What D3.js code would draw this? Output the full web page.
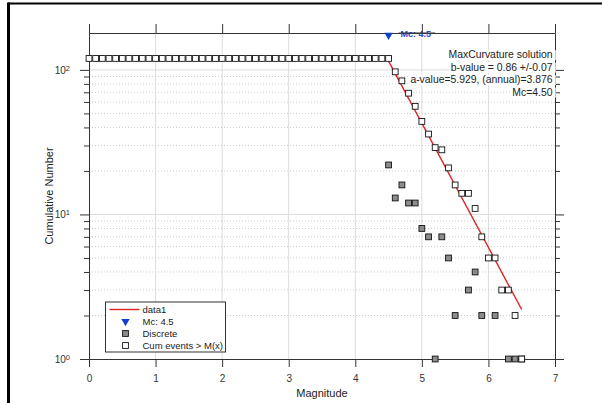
<!DOCTYPE html>
<html>
<head>
<meta charset="utf-8">
<script src="https://cdn.jsdelivr.net/npm/d3@7"></script>
<style>
  body { margin: 0; background: #fff; }
  svg { display: block; font-family: "Liberation Sans", Arial, sans-serif; }
</style>
</head>
<body>
<div id="graf"></div>
<script>
// datos
cumMag = [0.0, 0.1, 0.2, 0.3, 0.4, 0.5, 0.6, 0.7, 0.8, 0.9,
          1.0, 1.1, 1.2, 1.3, 1.4, 1.5, 1.6, 1.7, 1.8, 1.9,
          2.0, 2.1, 2.2, 2.3, 2.4, 2.5, 2.6, 2.7, 2.8, 2.9,
          3.0, 3.1, 3.2, 3.3, 3.4, 3.5, 3.6, 3.7, 3.8, 3.9,
          4.0, 4.1, 4.2, 4.3, 4.4, 4.5, 4.6, 4.7, 4.8, 4.9,
          5.0, 5.1, 5.2, 5.3, 5.4, 5.5, 5.6, 5.7, 5.8, 5.9,
          6.0, 6.1, 6.2, 6.3, 6.4, 6.5]
cumN = [120, 120, 120, 120, 120, 120, 120, 120, 120, 120,
        120, 120, 120, 120, 120, 120, 120, 120, 120, 120,
        120, 120, 120, 120, 120, 120, 120, 120, 120, 120,
        120, 120, 120, 120, 120, 120, 120, 120, 120, 120,
        120, 120, 120, 120, 120, 120, 97, 84, 69, 56,
        44, 36, 29, 28, 21, 16, 14, 14, 11, 7,
        5, 5, 3, 3, 2, 1]

discMag = [4.5, 4.6, 4.7, 4.8, 4.9, 5.0, 5.1, 5.2, 5.3, 5.4, 5.5, 5.7, 5.8, 5.9, 6.1, 6.3, 6.4, 6.5]
discN   = [22, 13, 16, 12, 12, 8, 7, 1, 7, 5, 2, 3, 4, 2, 2, 1, 1, 1]

fitMag = [4.5, 6.5]
fitN   = [115, 2.2]

mcMag = [4.5]
mcN   = [174]

xTicks = [0, 1, 2, 3, 4, 5, 6, 7]
yMajor = [1, 10, 100]
yMinor = [2, 3, 4, 5, 6, 7, 8, 9, 20, 30, 40, 50, 60, 70, 80, 90]

infoLines = ['MaxCurvature solution', 'b-value = 0.86 +/-0.07',
             'a-value=5.929, (annual)=3.876', 'Mc=4.50']
legendLabels = ['data1', 'Mc: 4.5', 'Discrete', 'Cum events > M(x)']

// configuración
ancho_total = 602
alto_total = 403
margins = { top: 33, left: 89, right: 47, bottom: 44 }
ancho = ancho_total - margins.left - margins.right
alto = alto_total - margins.top - margins.bottom

ejeColor = '#333333'

svg = d3.select('#graf').append('svg')
        .attr('width', ancho_total)
        .attr('height', alto_total)

// marco negro
svg.append('line').attr('x1', 8).attr('x2', 602).attr('y1', 3.5).attr('y2', 3.5)
   .attr('stroke', '#000').attr('stroke-width', 2)
svg.append('line').attr('x1', 8.5).attr('x2', 8.5).attr('y1', 2.5).attr('y2', 403)
   .attr('stroke', '#000').attr('stroke-width', 3)

g = svg.append('g').attr('transform', `translate(${margins.left}, ${margins.top})`)

x = d3.scaleLinear().domain([0, 7]).range([0, ancho])
y = d3.scaleLog().domain([1, 180]).range([alto, 0])

// rejilla
g.selectAll('.gx').data(xTicks.slice(1, -1)).enter().append('line')
  .attr('x1', d => x(d)).attr('x2', d => x(d))
  .attr('y1', 0).attr('y2', alto)
  .attr('stroke', '#dcdcdc').attr('stroke-width', 1)
g.selectAll('.gy').data(yMajor.slice(1)).enter().append('line')
  .attr('x1', 0).attr('x2', ancho)
  .attr('y1', d => y(d)).attr('y2', d => y(d))
  .attr('stroke', '#dcdcdc').attr('stroke-width', 1)
g.selectAll('.gym').data(yMinor).enter().append('line')
  .attr('x1', 0).attr('x2', ancho)
  .attr('y1', d => y(d)).attr('y2', d => y(d))
  .attr('stroke', '#cccccc').attr('stroke-width', 1)
  .attr('stroke-dasharray', '1,2')

// ejes
function estiloEje(sel) {
  sel.select('.domain').attr('stroke', ejeColor)
  sel.selectAll('.tick line').attr('stroke', ejeColor)
  sel.selectAll('.tick text').attr('fill', '#333').style('font-size', '10px')
}

xAxisGroup = g.append('g').attr('transform', `translate(0, ${alto})`)
  .call(d3.axisBottom(x).tickValues(xTicks).tickSize(8).tickSizeOuter(0).tickPadding(8).tickFormat(d3.format('d')))
  .call(estiloEje)

topAxisGroup = g.append('g')
  .call(d3.axisTop(x).tickValues(xTicks).tickSize(9).tickSizeOuter(0).tickFormat(''))
  .call(estiloEje)

yAxisGroup = g.append('g')
  .call(d3.axisLeft(y).tickValues(yMajor).tickSize(9).tickSizeOuter(0).tickPadding(10).tickFormat(''))
  .call(estiloEje)
yAxisGroup.selectAll('.tick text').each(function(d) {
  t = d3.select(this).attr('dy', '0.35em')
  t.append('tspan').text('10')
  t.append('tspan').attr('dy', '-0.45em').style('font-size', '7.5px').text(Math.round(Math.log10(d)))
})
g.append('g')
  .call(d3.axisLeft(y).tickValues(yMinor).tickSize(5).tickSizeOuter(0).tickFormat(''))
  .call(estiloEje)

rightAxisGroup = g.append('g').attr('transform', `translate(${ancho}, 0)`)
  .call(d3.axisRight(y).tickValues(yMajor).tickSize(9).tickSizeOuter(0).tickFormat(''))
  .call(estiloEje)
g.append('g').attr('transform', `translate(${ancho}, 0)`)
  .call(d3.axisRight(y).tickValues(yMinor).tickSize(5).tickSizeOuter(0).tickFormat(''))
  .call(estiloEje)

// cuadro de texto (cada línea con su fondo blanco)
info = g.append('g')
info.selectAll('.info').data(infoLines).enter().append('text')
  .attr('x', 463.5)
  .attr('y', (d, i) => 21.5 + i * 12.5)
  .attr('dy', '0.35em')
  .attr('text-anchor', 'end')
  .style('font-size', '10.4px')
  .attr('fill', '#222')
  .text(d => d)
  .each(function() {
    b = this.getBBox()
    info.insert('rect', 'text')
      .attr('x', b.x - 1).attr('y', b.y + 1)
      .attr('width', b.width + 4).attr('height', b.height - 1)
      .attr('fill', '#fff')
  })

// línea de ajuste
fitData = fitMag.map((m, i) => ({ m: m, n: fitN[i] }))
g.append('path').datum(fitData)
  .attr('d', d3.line().x(d => x(d.m)).y(d => y(d.n)))
  .attr('fill', 'none').attr('stroke', '#e02424').attr('stroke-width', 1.4)

// discretos
discData = discMag.map((m, i) => ({ m: m, n: discN[i] }))
g.selectAll('.disc').data(discData).enter().append('rect')
  .attr('x', d => x(d.m) - 2.9).attr('y', d => y(d.n) - 2.9)
  .attr('width', 5.8).attr('height', 5.8)
  .attr('fill', '#8c8c8c').attr('stroke', '#111').attr('stroke-width', 0.9)

// acumulados
cumData = cumMag.map((m, i) => ({ m: m, n: cumN[i] }))
g.selectAll('.cum').data(cumData).enter().append('rect')
  .attr('x', d => x(d.m) - 2.9).attr('y', d => y(d.n) - 2.9)
  .attr('width', 5.8).attr('height', 5.8)
  .attr('fill', '#fff').attr('stroke', '#111').attr('stroke-width', 0.9)

// Mc
tri = d3.symbol().type(d3.symbolTriangle).size(30)
g.selectAll('.mc').data(mcMag).enter().append('path')
  .attr('d', tri)
  .attr('transform', (d, i) => `translate(${x(d)}, ${y(mcN[i])}) rotate(180)`)
  .attr('fill', '#1040d0')
g.append('text')
  .attr('x', x(mcMag[0]) + 12).attr('y', y(mcN[0]) - 1)
  .attr('dy', '0.35em')
  .style('font-size', '9px').style('font-weight', 'bold')
  .attr('fill', '#2a48c8')
  .text('Mc: ' + mcMag[0])
// la línea superior se dibuja encima de la etiqueta
g.append('line').attr('x1', x(mcMag[0]) + 10).attr('x2', x(5.2)).attr('y1', 0).attr('y2', 0)
  .attr('stroke', ejeColor).attr('stroke-width', 1)

// leyenda
leg = svg.append('g').attr('transform', 'translate(105.5, 302)')
leg.append('rect').attr('width', 120).attr('height', 50)
  .attr('fill', '#fff').attr('stroke', '#333').attr('stroke-width', 1)
leg.append('line').attr('x1', 4).attr('x2', 34).attr('y1', 7.5).attr('y2', 7.5)
  .attr('stroke', '#e02424').attr('stroke-width', 1.4)
leg.append('path').attr('d', tri)
  .attr('transform', 'translate(20, 19.5) rotate(180)')
  .attr('fill', '#1040d0')
leg.append('rect').attr('x', 17.1).attr('y', 28.6).attr('width', 5.8).attr('height', 5.8)
  .attr('fill', '#8c8c8c').attr('stroke', '#111').attr('stroke-width', 0.9)
leg.append('rect').attr('x', 17.1).attr('y', 40.6).attr('width', 5.8).attr('height', 5.8)
  .attr('fill', '#fff').attr('stroke', '#111').attr('stroke-width', 0.9)
leg.selectAll('.lt').data(legendLabels).enter().append('text')
  .attr('x', 37).attr('y', (d, i) => 7.5 + i * 12)
  .attr('dy', '0.35em')
  .style('font-size', '9.5px')
  .attr('fill', '#222')
  .text(d => d)

// títulos de ejes
svg.append('text')
  .attr('x', margins.left + ancho / 2).attr('y', 393)
  .attr('dy', '0.35em').attr('text-anchor', 'middle')
  .style('font-size', '11px').attr('fill', '#222')
  .text('Magnitude')
svg.append('text')
  .attr('transform', 'translate(49, 196) rotate(-90)')
  .attr('dy', '0.35em').attr('text-anchor', 'middle')
  .style('font-size', '11px').attr('fill', '#222')
  .text('Cumulative Number')
</script>
</body>
</html>
